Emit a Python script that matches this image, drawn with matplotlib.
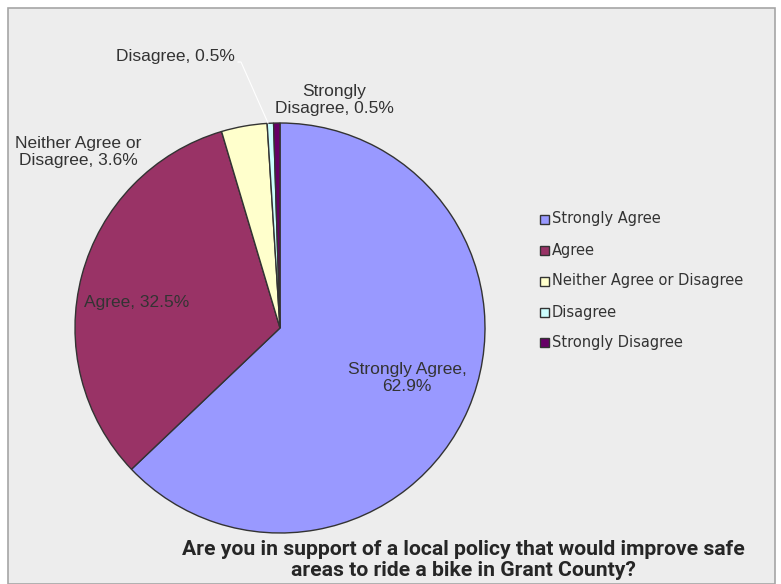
import matplotlib
matplotlib.use("Agg")
import matplotlib.pyplot as plt
from matplotlib.patches import Rectangle

categories = ["Strongly Agree", "Agree", "Neither Agree or Disagree", "Disagree", "Strongly Disagree"]
values = [62.9, 32.5, 3.6, 0.5, 0.5]
colors = ["#9999FF", "#993366", "#FFFFCC", "#CCFFFF", "#660066"]
title = "Are you in support of a local policy that would improve safe\nareas to ride a bike in Grant County?"

W, H = 781, 584
fig = plt.figure(figsize=(W / 100, H / 100), dpi=100)
fig.patch.set_facecolor("white")
bg = Rectangle((8 / W, 0), (775 - 8) / W, (584 - 8) / H, transform=fig.transFigure,
               facecolor="#EDEDED", edgecolor="#A6A6A6", linewidth=1.2, zorder=-5)
fig.add_artist(bg)

cx, cy, r = 280, 584 - 328, 205
ax = fig.add_axes([(cx - r) / W, (cy - r) / H, 2 * r / W, 2 * r / H])
ax.set_zorder(2)
ax.set_facecolor("none")
ax.patch.set_visible(False)
wedges, _ = ax.pie(values, colors=colors, startangle=90, counterclock=False,
                   wedgeprops=dict(edgecolor="#333333", linewidth=1.0), radius=1.0)
ax.set_xlim(-1, 1)
ax.set_ylim(-1, 1)
ax.set_aspect("equal")

lab_font = dict(family=["Liberation Sans", "DejaVu Sans"], fontsize=12.5, color="#333333")

def px(x, y):
    return (x / W, 1 - y / H)

fig.text(*px(407, 378), f"{categories[0]},\n{values[0]}%", ha="center", va="center", linespacing=1.15, zorder=5, **lab_font)
fig.text(*px(137, 302), f"{categories[1]}, {values[1]}%", ha="center", va="center", zorder=5, **lab_font)
fig.text(*px(78, 152), "Neither Agree or\nDisagree, " + f"{values[2]}%", ha="center", va="center", linespacing=1.15, zorder=5, **lab_font)
fig.text(*px(175, 57), f"{categories[3]}, {values[3]}%", ha="center", va="center", zorder=5, **lab_font)
fig.text(*px(334, 100), "Strongly\nDisagree, " + f"{values[4]}%", ha="center", va="center", linespacing=1.15, zorder=5, **lab_font)
fig.add_artist(plt.Line2D([238 / W, 241 / W, 268 / W], [1 - 62 / H, 1 - 62 / H, 1 - 123 / H],
                          transform=fig.transFigure, color="white", linewidth=0.8, zorder=5))

# legend
leg_font = dict(family=["DejaVu Sans"], fontsize=10.5, color="#333333")
ys = [219, 250, 281, 312, 342]
for lab, col, y in zip(categories, colors, ys):
    sq = Rectangle((540 / W, 1 - (y + 4.5) / H), 9 / W, 9 / H, transform=fig.transFigure,
                   facecolor=col, edgecolor="#333333", linewidth=1.0, zorder=5)
    fig.add_artist(sq)
    fig.text(*px(552, y), lab, ha="left", va="center", zorder=5, **leg_font)

fig.text(*px(463, 560), title, ha="center", va="center", fontsize=15.2, fontweight="bold",
         family=["Roboto", "DejaVu Sans"], color="#262626", linespacing=1.1, zorder=5)

fig.savefig("out.png", dpi=100, facecolor=fig.get_facecolor())
